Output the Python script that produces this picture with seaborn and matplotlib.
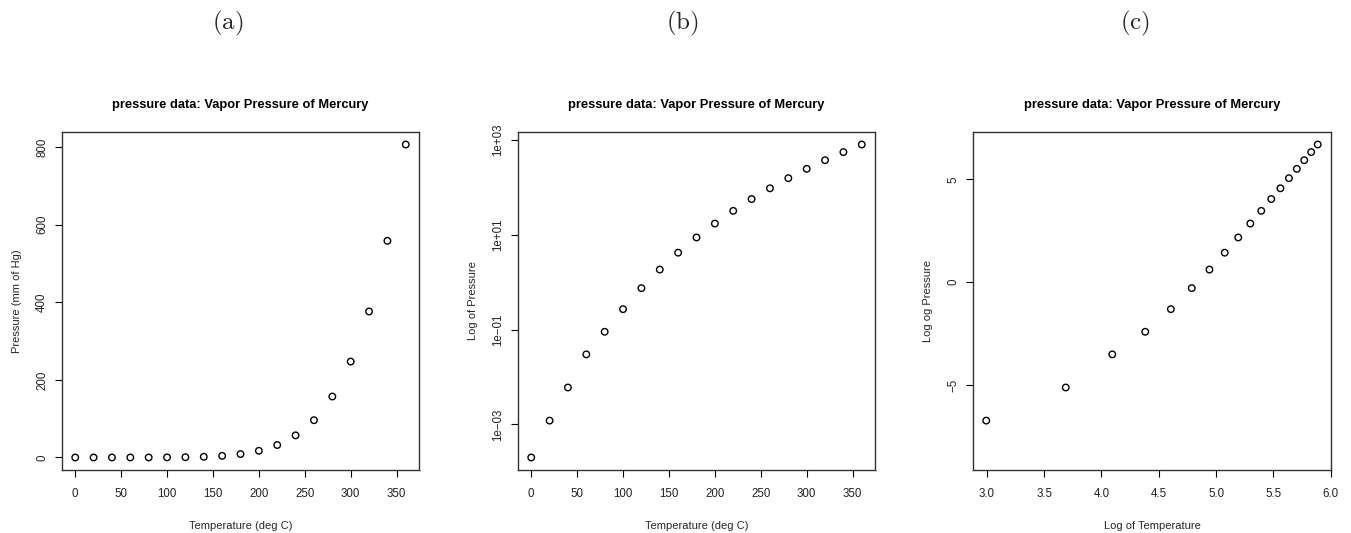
import numpy as np
import pandas as pd
import matplotlib
matplotlib.use("Agg")
import matplotlib.pyplot as plt
import seaborn as sns

temperature = [0, 20, 40, 60, 80, 100, 120, 140, 160, 180, 200, 220, 240, 260, 280, 300, 320, 340, 360]
pressure = [0.0002, 0.0012, 0.0060, 0.0300, 0.0900, 0.2700, 0.7500, 1.8500, 4.2000, 8.8000,
            17.3000, 32.1000, 57.0000, 96.0000, 157.0000, 247.0000, 376.0000, 558.0000, 806.0000]
panel_letters = ["(a)", "(b)", "(c)"]
title = "pressure data: Vapor Pressure of Mercury"
xticks_a = [0, 50, 100, 150, 200, 250, 300, 350]
yticks_a = [0, 200, 400, 600, 800]
yticks_b = [1e-3, 1e-1, 1e1, 1e3]
yticklabels_b = ["1e\u221203", "1e\u221201", "1e+01", "1e+03"]
xticks_c = [3.0, 3.5, 4.0, 4.5, 5.0, 5.5, 6.0]
xticklabels_c = ["3.0", "3.5", "4.0", "4.5", "5.0", "5.5", "6.0"]
yticks_c = [-5, 0, 5]
yticklabels_c = ["\u22125", "0", "5"]

sns.set_theme(style="white")
plt.rcParams['font.family'] = ['Liberation Sans', 'DejaVu Sans']
plt.rcParams['mathtext.fontset'] = 'cm'

df = pd.DataFrame({"temperature": temperature, "pressure": pressure})
df["log_t"] = np.log(df["temperature"].replace(0, np.nan))
df["log_p"] = np.log(df["pressure"])

fig = plt.figure(figsize=(13.51, 5.33), dpi=100)
W, H = 1351, 533
def rect(l, t, r, b):
    return [l / W, 1 - b / H, (r - l) / W, (b - t) / H]

axes = [fig.add_axes(rect(62, 132, 419, 470)),
        fig.add_axes(rect(518, 132, 875, 470)),
        fig.add_axes(rect(973, 132, 1331, 470))]

def rpad(lo, hi):
    d = (hi - lo) * 0.04
    return lo - d, hi + d

mk = dict(s=22, facecolor="none", edgecolor="black", linewidth=1.0, legend=False)

# (a)
ax = axes[0]
sns.scatterplot(data=df, x="temperature", y="pressure", ax=ax, **mk)
ax.set_xlim(*rpad(min(temperature), max(temperature)))
ax.set_ylim(*rpad(min(pressure), max(pressure)))
ax.set_xticks(xticks_a)
ax.set_yticks(yticks_a)
ax.set_xlabel("Temperature (deg C)")
ax.set_ylabel("Pressure (mm of Hg)")

# (b)
ax = axes[1]
sns.scatterplot(data=df, x="temperature", y="pressure", ax=ax, **mk)
ax.set_yscale("log")
ax.set_xlim(*rpad(min(temperature), max(temperature)))
lo, hi = rpad(np.log10(min(pressure)), np.log10(max(pressure)))
ax.set_ylim(10 ** lo, 10 ** hi)
ax.set_xticks(xticks_a)
ax.set_yticks(yticks_b)
ax.set_yticklabels(yticklabels_b)
ax.minorticks_off()
ax.set_xlabel("Temperature (deg C)")
ax.set_ylabel("Log of Pressure")

# (c)
ax = axes[2]
dfc = df.dropna()
sns.scatterplot(data=dfc, x="log_t", y="log_p", ax=ax, **mk)
ax.set_xlim(*rpad(dfc["log_t"].min(), dfc["log_t"].max()))
ax.set_ylim(*rpad(df["log_p"].min(), df["log_p"].max()))
ax.set_xticks(xticks_c)
ax.set_xticklabels(xticklabels_c)
ax.set_yticks(yticks_c)
ax.set_yticklabels(yticklabels_c)
ax.set_xlabel("Log of Temperature")
ax.set_ylabel("Log og Pressure")

for ax in axes:
    ax.set_title(title, fontsize=9.3, fontweight="bold", pad=17, color="black")
    for s in ax.spines.values():
        s.set_visible(True)
        s.set_color("#333333")
        s.set_linewidth(1.0)
    ax.tick_params(axis="both", which="both", direction="out", length=5, width=0.8,
                   color="black", labelsize=8.3, labelcolor="#222222", bottom=True, left=True)
    ax.tick_params(axis="x", pad=8)
    ax.tick_params(axis="y", pad=5, labelrotation=90)
    for lab in ax.get_yticklabels():
        lab.set_va("center")
    ax.xaxis.label.set_size(8)
    ax.yaxis.label.set_size(8)
    ax.xaxis.labelpad = 15
    ax.yaxis.labelpad = 10
    ax.grid(False)

for lx, letter in zip([228, 682, 1135], panel_letters):
    fig.text(lx / W, 1 - 23 / H, r"$\mathrm{" + letter + "}$", ha="center", va="center",
             fontsize=18)

fig.savefig("out.png", dpi=100, facecolor="white")
